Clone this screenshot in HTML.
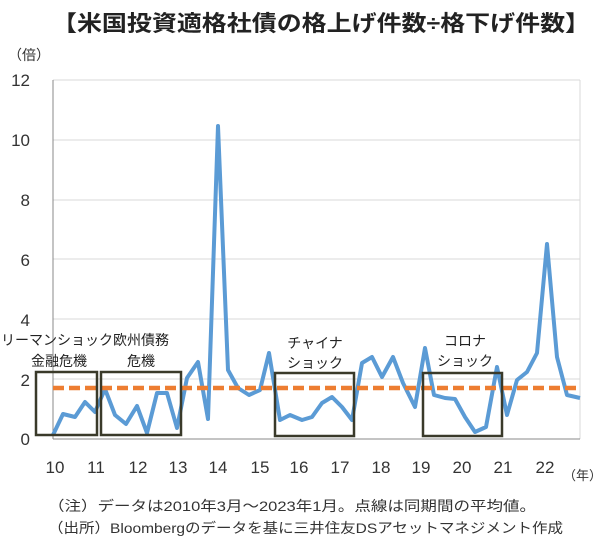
<!DOCTYPE html>
<html><head><meta charset="utf-8"><style>
body{margin:0;background:#fff;}
text{font-family:"Liberation Sans","Noto Sans CJK JP",sans-serif;}
</style></head><body>
<svg width="600" height="551" xmlns="http://www.w3.org/2000/svg">
<text x="52" y="31" font-size="22" font-weight="bold" fill="#222" textLength="538" lengthAdjust="spacingAndGlyphs">【米国投資適格社債の格上げ件数÷格下げ件数】</text>
<text x="8" y="60" font-size="14" fill="#333">（倍）</text>
<g stroke="#d9d9d9" stroke-width="1">
<line x1="53" y1="80" x2="580" y2="80"/><line x1="53" y1="140" x2="580" y2="140"/>
<line x1="53" y1="200" x2="580" y2="200"/><line x1="53" y1="259" x2="580" y2="259"/>
<line x1="53" y1="319" x2="580" y2="319"/><line x1="53" y1="379" x2="580" y2="379"/>
<line x1="580" y1="80" x2="580" y2="439"/>
</g>
<line x1="53" y1="80" x2="53" y2="439" stroke="#888"/>
<line x1="53" y1="439" x2="580" y2="439" stroke="#888"/>
<g font-size="17" fill="#333" text-anchor="end">
<text x="30" y="86">12</text><text x="30" y="146">10</text><text x="30" y="206">8</text>
<text x="30" y="266">6</text><text x="30" y="326">4</text><text x="30" y="386">2</text><text x="30" y="445">0</text>
</g>
<g font-size="17" fill="#333" text-anchor="middle">
<text x="55" y="473">10</text><text x="96" y="473">11</text><text x="138" y="473">12</text><text x="178" y="473">13</text>
<text x="218" y="473">14</text><text x="260" y="473">15</text><text x="299" y="473">16</text><text x="340" y="473">17</text>
<text x="381" y="473">18</text><text x="421" y="473">19</text><text x="462" y="473">20</text><text x="503" y="473">21</text><text x="545" y="473">22</text>
</g>
<text x="563" y="480" font-size="13" fill="#333">（年）</text>
<polyline fill="none" stroke="#5b9bd5" stroke-width="4" stroke-linejoin="round" points="53,435 63,414 75,417 85,402 95,412 105,389 115,415 126,424 137,406 147,433 157,393 167,393 177,428 187,378 198,362 208,419 218,126 228,370 238,388 249,395 260,390 269,353 280,420 290,415 302,420 312,417 322,403 332,397 342,407 352,420 362,363 372,357 382,377 393,357 403,383 415,407 425,348 434,395 445,398 455,399 465,417 475,432 486,427 497,367 507,415 517,380 527,372 537,353 547,244 557,357 567,395 580,398"/>
<line x1="53" y1="388" x2="580" y2="388" stroke="#ed7d31" stroke-width="4.5" stroke-dasharray="11,5"/>
<g fill="none" stroke="#3a3a2a" stroke-width="2.5">
<rect x="36" y="372" width="61" height="63"/><rect x="101" y="372" width="80" height="63"/>
<rect x="275" y="373" width="79" height="63"/><rect x="423" y="373" width="79" height="63"/>
</g>
<g font-size="14" fill="#222" text-anchor="middle">
<text x="57" y="345">リーマンショック</text><text x="59" y="366">金融危機</text>
<text x="141" y="345">欧州債務</text><text x="141" y="366">危機</text>
<text x="315" y="348">チャイナ</text><text x="315" y="368">ショック</text>
<text x="465" y="346">コロナ</text><text x="465" y="366">ショック</text>
</g>
<text x="48" y="511" font-size="14" fill="#333" textLength="488" lengthAdjust="spacingAndGlyphs">（注）データは2010年3月～2023年1月。点線は同期間の平均値。</text>
<text x="48" y="533" font-size="14" fill="#333" textLength="515" lengthAdjust="spacingAndGlyphs">（出所）Bloombergのデータを基に三井住友DSアセットマネジメント作成</text>
</svg>
</body></html>
